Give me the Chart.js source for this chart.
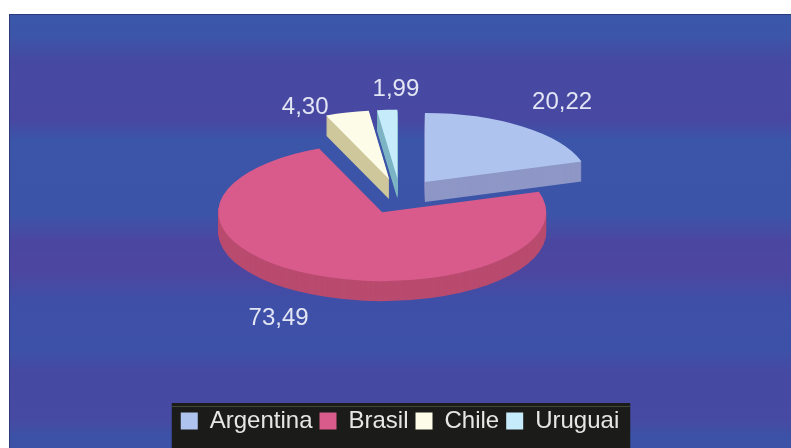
<!DOCTYPE html>
<html><head><meta charset="utf-8">
<script src="https://cdn.jsdelivr.net/npm/chart.js@4.4.1/dist/chart.umd.min.js"></script>
<style>html,body{margin:0;padding:0;background:#fff;overflow:hidden}#wrap{width:791px;height:448px;position:relative}</style>
</head><body><div id="wrap"><canvas id="c" width="791" height="448"></canvas></div>
<script>
// ---- data ----
const categories = ['Argentina', 'Brasil', 'Chile', 'Uruguai'];
const shares = [20.22, 73.49, 4.30, 1.99];

// ---- styles ----
const topColors = ['#aec4ef', '#d85b8c', '#fdfce9', '#c6ebfb'];
const sideColors = ['#8e97c6', '#b94b6f', '#cfc79c', '#7db4c4'];
const labelRadius = [1.43, 1.66, 1.16, 1.30];
const labelTurn = [-0.6, -2.7, -11.3, 3.2];
const TILT = 0.42, DEPTH = 20, EXPLODE = 42;
const FONT = '"Liberation Sans", Arial, sans-serif';
const bands = [[14,'#3a58aa'],[37,'#3c55a8'],[60,'#4649a2'],[120,'#4848a2'],[140,'#3b55a8'],[215,'#3c54a8'],[240,'#4a47a1'],[270,'#4d46a0'],[300,'#3f4fa7'],[350,'#3d51a8'],[372,'#4649a2'],[420,'#474aa2'],[435,'#3c52a6'],[448,'#3c52a6']];

const valueText = v => v.toFixed(2).replace('.', ',');

const bgPlugin = {
  id: 'bg',
  beforeDraw(chart) {
    const ctx = chart.ctx, W = chart.width, H = chart.height;
    ctx.save();
    ctx.fillStyle = '#ffffff';
    ctx.fillRect(0, 0, W, H);
    const g = ctx.createLinearGradient(0, 14, 0, H);
    bands.forEach(([y, c]) => g.addColorStop(Math.min(1, Math.max(0, (y - 14) / (H - 14))), c));
    ctx.fillStyle = g;
    ctx.fillRect(9, 14, W - 9, H - 14);
    ctx.strokeStyle = '#2c3a7c';
    ctx.lineWidth = 1;
    ctx.beginPath(); ctx.moveTo(9.5, H); ctx.lineTo(9.5, 14.5); ctx.lineTo(W, 14.5); ctx.stroke();
    // legend backdrop
    const lg = chart.legend;
    if (lg && lg.legendHitBoxes && lg.legendHitBoxes.length) {
      const hb = lg.legendHitBoxes;
      const last = hb[hb.length - 1];
      const x0 = hb[0].left - 9, x1 = last.left + last.width + 11;
      const y0 = hb[0].top - 6;
      ctx.fillStyle = '#1b1c19';
      ctx.fillRect(x0, y0, x1 - x0, H - y0);
      ctx.strokeStyle = 'rgba(90,105,70,0.6)';
      ctx.beginPath(); ctx.moveTo(x0, y0 + 3.5); ctx.lineTo(x1, y0 + 3.5); ctx.stroke();
    }
    ctx.restore();
  }
};

const pie3dPlugin = {
  id: 'pie3d',
  beforeDatasetsDraw(chart) {
    const ctx = chart.ctx;
    const arcs = chart.getDatasetMeta(0).data;
    const drawArc = (arc, dy, color) => {
      const mid = (arc.startAngle + arc.endAngle) / 2;
      const cx = arc.x, cy = arc.y;
      ctx.save();
      ctx.translate(cx, cy + dy);
      ctx.scale(1, TILT);
      ctx.translate(-cx + Math.cos(mid) * EXPLODE, -cy + Math.sin(mid) * EXPLODE);
      const f = Object.create(arc);
      f.options = Object.assign({}, arc.options, {backgroundColor: color, borderColor: color, borderWidth: 0});
      arc.draw.call(f, ctx);
      ctx.restore();
    };
    for (let d = DEPTH; d >= 1; d--) arcs.forEach((a, i) => drawArc(a, d, sideColors[i]));
    arcs.forEach((a, i) => drawArc(a, 0, topColors[i]));
    return false;
  }
};

const labelPlugin = {
  id: 'vlabels',
  afterDraw(chart) {
    const ctx = chart.ctx;
    const arcs = chart.getDatasetMeta(0).data;
    ctx.save();
    ctx.font = '24px ' + FONT;
    ctx.fillStyle = '#e2e5f4';
    ctx.textAlign = 'center';
    ctx.textBaseline = 'middle';
    arcs.forEach((a, i) => {
      const mid = (a.startAngle + a.endAngle) / 2;
      const sx = a.x + Math.cos(mid) * EXPLODE;
      const sy = a.y + Math.sin(mid) * EXPLODE * TILT;
      const ang = mid + labelTurn[i] * Math.PI / 180;
      const r = a.outerRadius * labelRadius[i];
      ctx.fillText(valueText(shares[i]), sx + Math.cos(ang) * r, sy + Math.sin(ang) * r * TILT);
    });
    ctx.restore();
  }
};

new Chart(document.getElementById('c'), {
  type: 'pie',
  data: {
    labels: categories,
    datasets: [{data: shares, backgroundColor: topColors, borderWidth: 0, radius: 164}]
  },
  options: {
    responsive: false,
    animation: false,
    events: [],
    radius: 164,
    layout: {padding: {left: 14, right: 5, top: 0, bottom: 5}},
    plugins: {
      legend: {
        position: 'bottom',
        title: {display: true, text: ' ', padding: 0, font: {size: 8}},
        labels: {boxWidth: 17, boxHeight: 17, padding: 7, color: '#e6e6e6', font: {family: FONT, size: 24}}
      },
      tooltip: {enabled: false}
    }
  },
  plugins: [bgPlugin, pie3dPlugin, labelPlugin]
});
</script>
</body></html>
